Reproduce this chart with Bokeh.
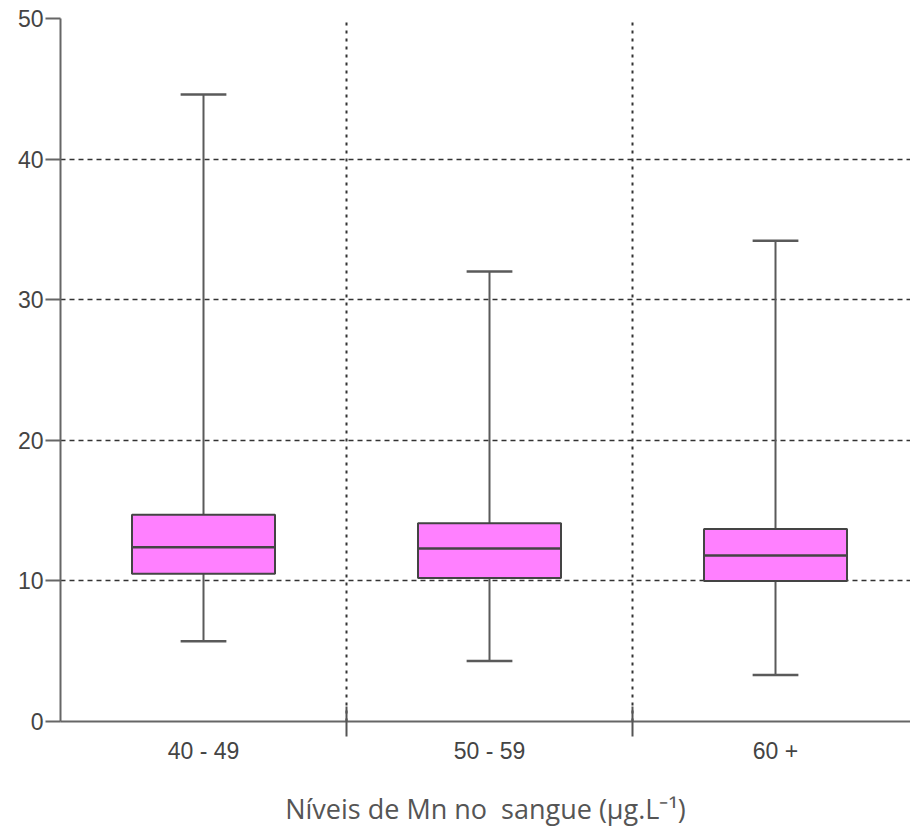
from bokeh.plotting import figure
from bokeh.models import FixedTicker, Range1d, ColumnDataSource
from bokeh.embed import file_html
from bokeh.resources import INLINE

groups = ["40 - 49", "50 - 59", "60 +"]
whisker_low = [5.7, 4.3, 3.3]
q1 = [10.5, 10.2, 10.0]
median = [12.4, 12.3, 11.8]
q3 = [14.7, 14.1, 13.7]
whisker_high = [44.6, 32.0, 34.2]
y_ticks = [0, 10, 20, 30, 40, 50]

xpos = [i + 0.5 for i in range(len(groups))]
box_w = 0.5
cap_w = 0.16

p = figure(width=910, height=829, output_backend="svg", toolbar_location=None,
           x_range=Range1d(0, 2.972), y_range=Range1d(0, 50),
           min_border_left=60, min_border_top=18, min_border_right=0, min_border_bottom=0)
p.outline_line_color = None
p.background_fill_color = "white"

src = ColumnDataSource(dict(x=xpos, lo=whisker_low, q1=q1, med=median, q3=q3, hi=whisker_high,
                            cl=[x - cap_w / 2 for x in xpos], cr=[x + cap_w / 2 for x in xpos],
                            bl=[x - box_w / 2 for x in xpos], br=[x + box_w / 2 for x in xpos]))

lc = "#5a5a5a"
# whiskers
p.segment(x0="x", y0="q3", x1="x", y1="hi", source=src, line_color=lc, line_width=2)
p.segment(x0="x", y0="lo", x1="x", y1="q1", source=src, line_color=lc, line_width=2)
p.segment(x0="cl", y0="hi", x1="cr", y1="hi", source=src, line_color=lc, line_width=2.5)
p.segment(x0="cl", y0="lo", x1="cr", y1="lo", source=src, line_color=lc, line_width=2.5)
# boxes
p.quad(left="bl", right="br", bottom="q1", top="q3", source=src,
       fill_color="#ff80ff", line_color="#444444", line_width=2)
p.segment(x0="bl", y0="med", x1="br", y1="med", source=src, line_color="#444444", line_width=2.5)

# x axis
xt = FixedTicker(ticks=xpos, minor_ticks=[1, 2])
p.xaxis.ticker = xt
p.xaxis.major_label_overrides = {x: g for x, g in zip(xpos, groups)}
p.xaxis.major_tick_line_color = None
p.xaxis.major_tick_out = 15
p.xaxis.major_tick_in = 0
p.xaxis.minor_tick_out = 15
p.xaxis.minor_tick_in = 15
p.xaxis.minor_tick_line_color = "#555555"
p.xaxis.minor_tick_line_width = 2
p.xaxis.axis_line_color = "#666666"
p.xaxis.axis_line_width = 2
p.xaxis.major_label_standoff = 1
p.xaxis.major_label_text_font = "Liberation Sans"
p.xaxis.major_label_text_font_size = "23px"
p.xaxis.major_label_text_color = "#444444"
p.xaxis.axis_label = "Níveis de Mn no\u00a0 sangue (µg.L⁻¹)"
p.xaxis.axis_label_text_font = "Open Sans"
p.xaxis.axis_label_text_font_style = "normal"
p.xaxis.axis_label_text_font_size = "27px"
p.xaxis.axis_label_text_color = "#555555"
p.xaxis.axis_label_standoff = 23

# y axis
p.yaxis.ticker = FixedTicker(ticks=y_ticks)
p.yaxis.minor_tick_line_color = None
p.yaxis.major_tick_out = 15
p.yaxis.major_tick_in = 0
p.yaxis.major_tick_line_color = "#666666"
p.yaxis.major_tick_line_width = 2
p.yaxis.axis_line_color = "#666666"
p.yaxis.axis_line_width = 2
p.yaxis.major_label_standoff = 2
p.yaxis.major_label_text_font = "Liberation Sans"
p.yaxis.major_label_text_font_size = "23px"
p.yaxis.major_label_text_color = "#444444"

# grids
p.xgrid.ticker = FixedTicker(ticks=[1, 2])
p.xgrid.grid_line_color = "#333333"
p.xgrid.grid_line_dash = "3 5"
p.xgrid.grid_line_width = 2
p.ygrid.ticker = FixedTicker(ticks=[10, 20, 30, 40, 50])
p.ygrid.grid_line_color = "#333333"
p.ygrid.grid_line_dash = "5 4"
p.ygrid.grid_line_width = 1.5

open("out.html", "w").write(file_html(p, INLINE))
